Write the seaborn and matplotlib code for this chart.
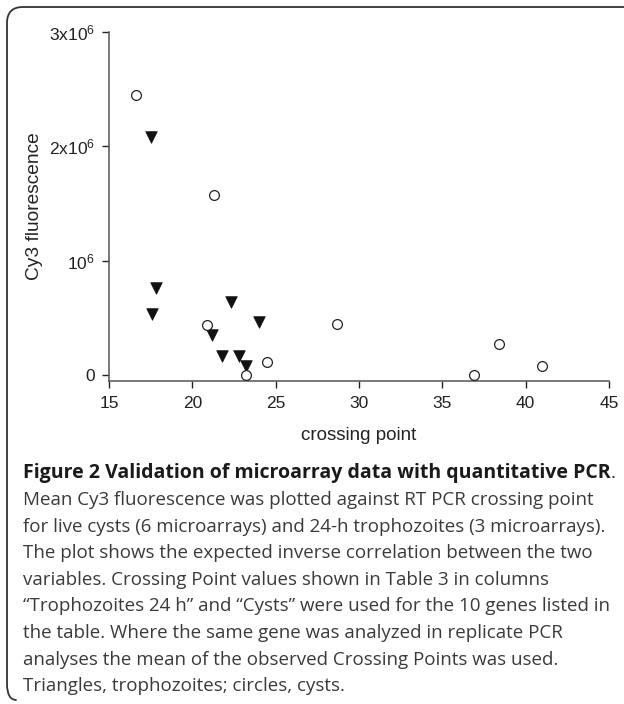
import pandas as pd
import seaborn as sns
import matplotlib.pyplot as plt
from matplotlib.path import Path
from matplotlib.patches import PathPatch

# Values
cyst_cp = [16.6, 21.3, 20.9, 28.7, 24.5, 23.2, 36.9, 38.4, 41.0]
cyst_cy3 = [2.447e6, 1.577e6, 0.44e6, 0.445e6, 0.113e6, 0.0, 0.0, 0.27e6, 0.079e6]
troph_cp = [17.5, 17.8, 17.6, 22.3, 24.0, 21.2, 21.8, 22.8, 23.2]
troph_cy3 = [2.083e6, 0.757e6, 0.535e6, 0.637e6, 0.46e6, 0.352e6, 0.169e6, 0.169e6, 0.076e6]

x_ticks = [15, 20, 25, 30, 35, 40, 45]
y_ticks = [0, 1e6, 2e6, 3e6]
y_tick_labels = ["0", r"10$^{6}$", r"2x10$^{6}$", r"3x10$^{6}$"]

caption_title = "Figure 2 Validation of microarray data with quantitative PCR"
caption_lines = [
    "Mean Cy3 fluorescence was plotted against RT PCR crossing point",
    "for live cysts (6 microarrays) and 24-h trophozoites (3 microarrays).",
    "The plot shows the expected inverse correlation between the two",
    "variables. Crossing Point values shown in Table 3 in columns",
    "\u201cTrophozoites 24 h\u201d and \u201cCysts\u201d were used for the 10 genes listed in",
    "the table. Where the same gene was analyzed in replicate PCR",
    "analyses the mean of the observed Crossing Points was used.",
    "Triangles, trophozoites; circles, cysts.",
]

sns.set_style("white")
plt.rcParams["font.family"] = ["Liberation Sans", "DejaVu Sans"]
plt.rcParams["mathtext.fontset"] = "custom"
plt.rcParams["mathtext.rm"] = "Liberation Sans"
plt.rcParams["mathtext.it"] = "Liberation Sans"

W, H = 624, 704
fig = plt.figure(figsize=(W / 100, H / 100), dpi=100)
ax = fig.add_axes([109 / W, 1 - 381 / H, 500 / W, (381 - 32) / H])

cysts = pd.DataFrame({"cp": cyst_cp, "cy3": cyst_cy3})
trophs = pd.DataFrame({"cp": troph_cp, "cy3": troph_cy3})

sns.scatterplot(data=trophs, x="cp", y="cy3", marker="v", s=70, color="#111111",
                edgecolor="#111111", linewidth=0.5, ax=ax, zorder=3)
sns.scatterplot(data=cysts, x="cp", y="cy3", marker="o", s=50, facecolor="white",
                edgecolor="#222222", linewidth=0.9, ax=ax, zorder=4)

ax.set_xlim(15, 45)
ax.set_ylim(-0.0525e6, 3e6)
ax.set_xticks(x_ticks)
ax.set_xticklabels([str(t) for t in x_ticks])
ax.set_yticks(y_ticks)
ax.set_yticklabels(y_tick_labels)
ax.tick_params(axis="both", labelsize=12.5, colors="#222222", length=5, width=1,
               direction="out", pad=5)
ax.tick_params(axis="x", bottom=True, pad=6)
ax.tick_params(axis="y", left=True)
ax.set_xlabel("crossing point", fontsize=13.5, color="#222222", labelpad=11)
ax.set_ylabel("Cy3 fluorescence", fontsize=13.8, color="#222222", labelpad=4)
for side in ["top", "right"]:
    ax.spines[side].set_visible(False)
for side in ["left", "bottom"]:
    ax.spines[side].set_color("#555555")
    ax.spines[side].set_linewidth(1.1)

# Caption below the plot
cap_font = ["Open Sans", "DejaVu Sans"]
title = fig.text(23 / W, 1 - 473 / H, caption_title, fontsize=14, fontweight="bold",
                 family=cap_font, color="#1a1a1a", va="center", ha="left")
fig.canvas.draw()
bb = title.get_window_extent()
fig.text(bb.x1 / W, 1 - 473 / H, ".", fontsize=14, family=cap_font,
         color="#333333", va="center", ha="left")
for i, line in enumerate(caption_lines):
    fig.text(23 / W, 1 - (500 + i * 26.6) / H, line, fontsize=13.5, family=cap_font,
             color="#3a3a3a", va="center", ha="left")

# Rounded frame (top and left edges only)
r = 16
verts = [(W, H - 7), (7 + r, H - 7), (7, H - 7), (7, H - 7 - r),
         (7, 4 + r), (7, 4), (7 + r * 0.6, 4)]
codes = [Path.MOVETO, Path.LINETO, Path.CURVE3, Path.CURVE3,
         Path.LINETO, Path.CURVE3, Path.CURVE3]
frame = PathPatch(Path([(x / W, y / H) for x, y in verts], codes),
                  transform=fig.transFigure, fill=False, edgecolor="#333333",
                  linewidth=1.3)
fig.patches.append(frame)

fig.savefig("out.png", dpi=100)
